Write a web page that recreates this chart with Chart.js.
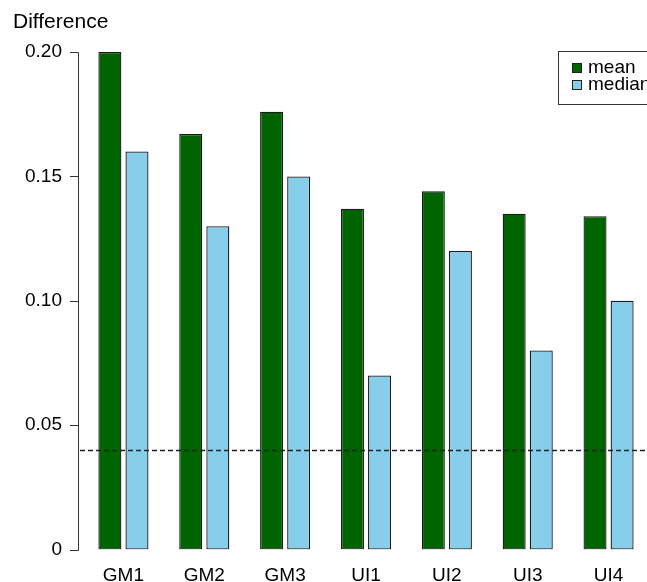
<!DOCTYPE html>
<html>
<head>
<meta charset="utf-8">
<script src="https://cdn.jsdelivr.net/npm/chart.js@4.4.1/dist/chart.umd.min.js"></script>
<style>
  html, body { margin: 0; padding: 0; background: #fff; overflow: hidden; }
  #wrap { width: 650px; height: 582px; }
</style>
</head>
<body>
<div id="wrap"><canvas id="c" width="650" height="582"></canvas></div>
<script>
const categories = ["GM1", "GM2", "GM3", "UI1", "UI2", "UI3", "UI4"];
const meanValues = [0.200, 0.167, 0.176, 0.137, 0.144, 0.135, 0.134];
const medianValues = [0.160, 0.130, 0.150, 0.070, 0.120, 0.080, 0.100];
const yTicks = [0, 0.05, 0.10, 0.15, 0.20];
const yTickLabels = ["0", "0.05", "0.10", "0.15", "0.20"];
const thresholdValue = 0.04;
const seriesNames = ["mean", "median"];
const seriesColors = ["#006400", "#87CEEB"];
const yAxisTitle = "Difference";

const FONT = "'Liberation Sans', Arial, Helvetica, sans-serif";

const extras = {
  id: 'extras',
  afterDatasetsDraw(chart) {
    const ctx = chart.ctx;
    const y = chart.scales.y;
    ctx.save();
    // y axis line and ticks
    ctx.strokeStyle = '#333';
    ctx.lineWidth = 1;
    ctx.beginPath();
    const ax = 78.5;
    ctx.moveTo(ax, Math.round(y.getPixelForValue(yTicks[0])) + 0.5);
    ctx.lineTo(ax, Math.round(y.getPixelForValue(yTicks[yTicks.length - 1])) + 0.5);
    yTicks.forEach(v => {
      const py = Math.round(y.getPixelForValue(v)) + 0.5;
      ctx.moveTo(70, py);
      ctx.lineTo(ax, py);
    });
    ctx.stroke();
    // dashed threshold line
    const ty = Math.round(y.getPixelForValue(thresholdValue)) + 0.5;
    ctx.setLineDash([5, 3]);
    ctx.strokeStyle = '#222';
    ctx.lineWidth = 1.3;
    ctx.beginPath();
    ctx.moveTo(80, ty);
    ctx.lineTo(chart.width, ty);
    ctx.stroke();
    ctx.setLineDash([]);
    ctx.lineWidth = 1;
    // title
    ctx.fillStyle = '#000';
    ctx.font = "21px " + FONT;
    ctx.textAlign = 'left';
    ctx.textBaseline = 'alphabetic';
    ctx.fillText(yAxisTitle, 13, 28);
    // legend
    ctx.font = "19px " + FONT;
    ctx.fillStyle = '#fff';
    ctx.fillRect(558.5, 51.5, 120, 53);
    ctx.strokeStyle = '#333';
    ctx.strokeRect(558.5, 51.5, 120, 53);
    const baselines = [73, 90];
    seriesNames.forEach((name, i) => {
      const b = baselines[i];
      ctx.fillStyle = seriesColors[i];
      ctx.fillRect(572.5, b - 9.5, 9, 9);
      ctx.strokeStyle = '#222';
      ctx.strokeRect(572.5, b - 9.5, 9, 9);
      ctx.fillStyle = '#000';
      ctx.fillText(name, 588, b);
    });
    ctx.restore();
  }
};

new Chart(document.getElementById('c'), {
  type: 'bar',
  data: {
    labels: categories,
    datasets: [
      { label: seriesNames[0], data: meanValues, backgroundColor: seriesColors[0],
        borderColor: '#1a1a1a', borderWidth: 1.3, borderSkipped: false,
        categoryPercentage: 0.67, barPercentage: 0.85 },
      { label: seriesNames[1], data: medianValues, backgroundColor: seriesColors[1],
        borderColor: '#1a1a1a', borderWidth: 1.3, borderSkipped: false,
        categoryPercentage: 0.67, barPercentage: 0.85 }
    ]
  },
  options: {
    responsive: false,
    animation: false,
    layout: { padding: { top: 52, right: 1, left: 0, bottom: 0 } },
    plugins: { legend: { display: false }, tooltip: { enabled: false }, title: { display: false } },
    scales: {
      x: {
        grid: { display: false, drawTicks: false },
        border: { display: false },
        ticks: { color: '#000', font: { family: FONT, size: 19 }, padding: 15, maxRotation: 0 },
        afterFit(s) { s.height = 32; }
      },
      y: {
        min: 0, max: 0.2,
        afterBuildTicks(s) { s.ticks = yTicks.map(v => ({ value: v })); },
        grid: { display: false, drawTicks: false },
        border: { display: false },
        ticks: {
          color: '#000', font: { family: FONT, size: 19 }, padding: 21,
          callback(v) { const i = yTicks.findIndex(t => Math.abs(t - v) < 1e-9); return i >= 0 ? yTickLabels[i] : ''; }
        },
        afterFit(s) { s.width = 83; }
      }
    }
  },
  plugins: [extras]
});
</script>
</body>
</html>
